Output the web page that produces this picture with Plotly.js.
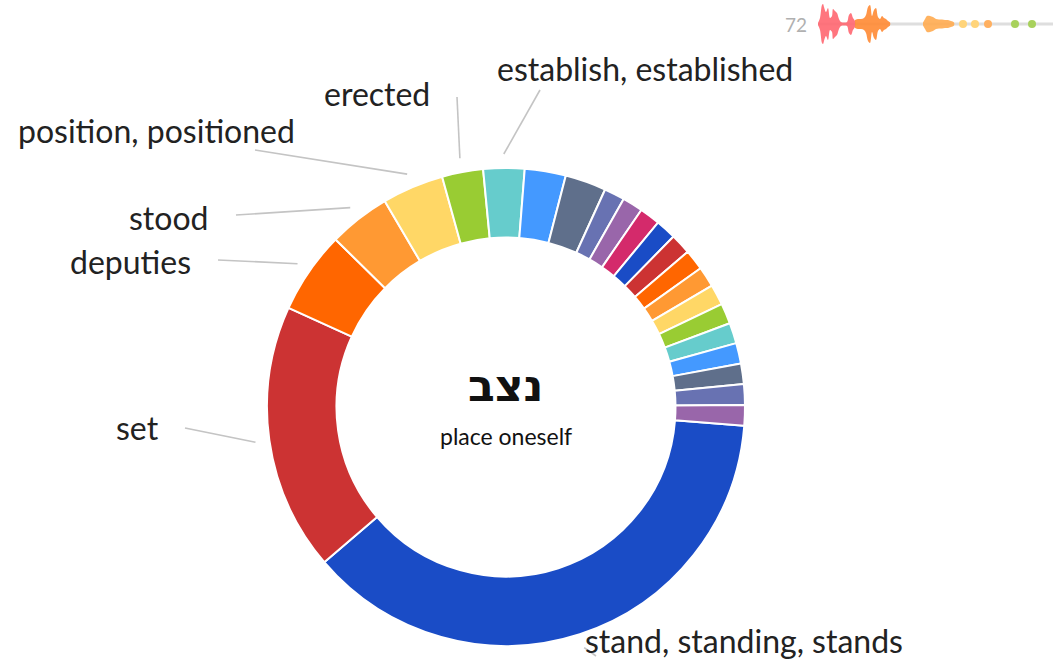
<!DOCTYPE html>
<html>
<head>
<meta charset="utf-8">
<script src="https://cdn.plot.ly/plotly-3.0.1.min.js"></script>
<style>
  html, body { margin: 0; padding: 0; background: #fff; }
  #chart { width: 1053px; height: 667px; }
</style>
</head>
<body>
<div id="chart"></div>
<script>
// ---------- DATA ----------
const categories = [
  'stand, standing, stands', 'set', 'deputies', 'stood', 'position, positioned',
  'erected', 'establish, established',
  '', '', '', '', '', '', '', '', '', '', '', '', '', '', ''
];
const counts = [27, 13, 4, 3, 3, 2, 2, 2, 2, 1, 1, 1, 1, 1, 1, 1, 1, 1, 1, 1, 1, 1, 1];
const totalOccurrences = 72;
const rootWord = 'נצב';
const gloss = 'place oneself';

// sparkline (distribution of occurrences)
const sparkRedX = [0, 2, 4, 5, 6, 8, 10, 12, 14, 15, 17, 19, 21, 23, 26, 29, 31, 33, 35, 37];
const sparkRedH = [1, 6, 19, 20, 17, 12, 16, 6, 8, 15, 13, 11, 5, 2, 1.5, 2, 9, 11, 6, 3];
const sparkOrangeX = [37, 40, 43, 46, 48, 50, 52, 54, 56, 58, 60, 62, 64, 66, 68, 70, 72];
const sparkOrangeH = [4, 5, 5, 6, 9, 17, 19, 8, 14, 16, 7, 5, 8, 6, 5, 3, 1.5];
const sparkLightX = [105, 107, 109, 112, 115, 118, 121, 124, 127, 130, 133, 136];
const sparkLightH = [1.5, 5, 8, 8, 7, 5, 4.5, 4.5, 4, 4, 3, 1.5];
const sparkDotX = [145, 157, 170, 197, 214];
const sparkDotGroup = ['yellow', 'yellow', 'light', 'green', 'green'];

// ---------- STYLE / LAYOUT ----------
const W = 1053, H = 667;
const palette = ['#1a4cc6', '#cc3333', '#ff6600', '#ff9933', '#ffd766', '#99cc33',
                 '#66cccc', '#4499ff', '#5f6f8b', '#6872b2', '#9966aa', '#d42a6b'];
const sliceColors = counts.map((_, i) => palette[i % palette.length]);
const cx = 506, cy = 407, R = 239, holeR = 169.5;
const rotationDeg = 94.5;

// label text positions (pixels) and connector outer points
const labelLayout = [
  {tx: 583, ty: 640, anchor: 'left',  ox: 596, oy: 656},
  {tx: 161, ty: 427, anchor: 'right', ox: 185, oy: 428},
  {tx: 193, ty: 262, anchor: 'right', ox: 218, oy: 260},
  {tx: 210, ty: 217, anchor: 'right', ox: 236, oy: 215},
  {tx: 297, ty: 131, anchor: 'right', ox: 255, oy: 150},
  {tx: 432, ty: 93,  anchor: 'right', ox: 457, oy: 97},
  {tx: 495, ty: 69,  anchor: 'left',  ox: 540, oy: 90}
];

const px = x => x / W;
const py = y => 1 - y / H;

const total = counts.reduce((a, b) => a + b, 0);
const annotations = [];
const shapes = [];
let acc = 0;
counts.forEach((v, i) => {
  const mid = rotationDeg + (acc + v / 2) / total * 360;
  acc += v;
  if (!categories[i]) return;
  const L = labelLayout[i];
  const a = mid * Math.PI / 180;
  const ix = cx + (R + 14) * Math.sin(a);
  const iy = cy - (R + 14) * Math.cos(a);
  shapes.push({type: 'line', xref: 'paper', yref: 'paper',
    x0: px(ix), y0: py(iy), x1: px(L.ox), y1: py(L.oy),
    line: {color: '#c4c4c4', width: 1.6}});
  annotations.push({xref: 'paper', yref: 'paper', x: px(L.tx), y: py(L.ty),
    xanchor: L.anchor, yanchor: 'middle', showarrow: false, text: categories[i],
    font: {family: 'Lato, sans-serif', size: 32, color: '#222'}});
});

annotations.push({xref: 'paper', yref: 'paper', x: px(cx), y: py(385),
  xanchor: 'center', yanchor: 'middle', showarrow: false, text: '<b>' + rootWord + '</b>',
  font: {family: 'DejaVu Sans, sans-serif', size: 44, color: '#111'}});
annotations.push({xref: 'paper', yref: 'paper', x: px(cx), y: py(436),
  xanchor: 'center', yanchor: 'middle', showarrow: false, text: gloss,
  font: {family: 'Lato, sans-serif', size: 23, color: '#111'}});
annotations.push({xref: 'paper', yref: 'paper', x: px(809), y: py(24),
  xanchor: 'right', yanchor: 'middle', showarrow: false, text: String(totalOccurrences),
  font: {family: 'Lato, sans-serif', size: 19, color: '#b0b0b0'}});

function violin(xs, hs, color) {
  const X = xs.concat(xs.slice().reverse());
  const Y = hs.concat(hs.slice().reverse().map(h => -h));
  return {type: 'scatter', mode: 'lines', x: X, y: Y, fill: 'toself',
    fillcolor: color, line: {width: 0, shape: 'spline', color: color},
    xaxis: 'x', yaxis: 'y', hoverinfo: 'skip', showlegend: false, opacity: 0.9};
}
const dotColors = {yellow: '#ffd47a', light: '#ffb060', green: '#a8d15c'};

const traces = [
  {type: 'scatter', mode: 'lines', x: [0, 235], y: [0, 0],
   line: {color: '#dedede', width: 3}, hoverinfo: 'skip', showlegend: false},
  violin(sparkRedX, sparkRedH, '#ff6670'),
  violin(sparkOrangeX, sparkOrangeH, '#ff8a33'),
  violin(sparkLightX, sparkLightH, '#ffab50'),
  {type: 'scatter', mode: 'markers', x: sparkDotX, y: sparkDotX.map(() => 0),
   marker: {size: 8, color: sparkDotGroup.map(g => dotColors[g])},
   hoverinfo: 'skip', showlegend: false},
  {type: 'pie', values: counts, text: categories, sort: false,
   direction: 'clockwise', rotation: rotationDeg, hole: holeR / R,
   textinfo: 'none', hoverinfo: 'text+value',
   marker: {colors: sliceColors, line: {color: '#ffffff', width: 2}},
   domain: {x: [(cx - R) / W, (cx + R) / W], y: [(H - cy - R) / H, (H - cy + R) / H]},
   showlegend: false}
];

const layout = {
  width: W, height: H,
  margin: {l: 0, r: 0, t: 0, b: 0},
  paper_bgcolor: '#fff', plot_bgcolor: 'rgba(0,0,0,0)',
  showlegend: false,
  xaxis: {domain: [818 / W, 1], range: [0, 235], visible: false, fixedrange: true},
  yaxis: {domain: [1 - 47 / H, 1 - 1 / H], range: [-23, 23], visible: false, fixedrange: true},
  annotations: annotations,
  shapes: shapes
};

Plotly.newPlot('chart', traces, layout, {displayModeBar: false, staticPlot: true});
</script>
</body>
</html>
